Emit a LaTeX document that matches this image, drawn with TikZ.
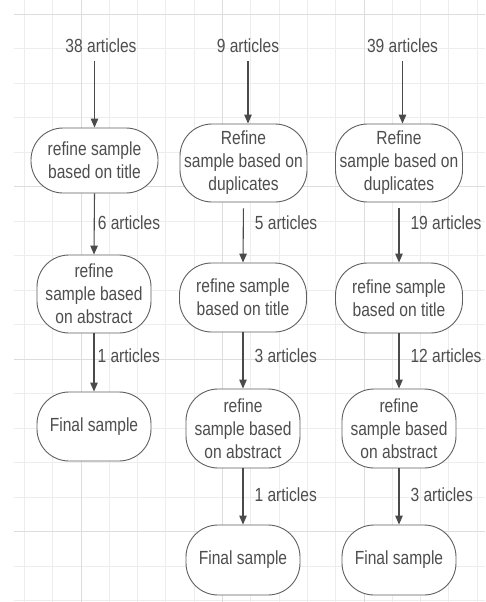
\documentclass[tikz,border=0pt]{standalone}
\usepackage{fontspec}
\setmainfont[FakeStretch=0.82]{Liberation Sans}
\usetikzlibrary{arrows.meta}
\definecolor{gridminor}{HTML}{EDEDED}
\definecolor{gridmajor}{HTML}{DDDDDD}
\definecolor{boxc}{HTML}{606060}
\definecolor{txt}{HTML}{4E4E4E}
\definecolor{arrc}{HTML}{4A4A4A}
\begin{document}
\begin{tikzpicture}[x=1pt,y=-1pt,
  box/.style={draw=boxc, line width=0.9pt, rounded corners=32pt, text=txt, align=center,
    font=\fontsize{19}{23}\selectfont, inner sep=0pt, fill=white},
  wide/.style={minimum width=127pt},
  narrow/.style={minimum width=114pt},
  toplbl/.style={text=txt, font=\fontsize{19}{23}\selectfont, inner sep=2pt},
  elbl/.style={text=txt, font=\fontsize{19}{23}\selectfont, right, inner sep=0pt},
  arr/.style={draw=arrc, line width=1.1pt, -{Triangle[length=9pt,width=7.5pt]}}]
\useasboundingbox (0,0) rectangle (485,602);
\fill[white] (0,0) rectangle (485,602);
% grid
\foreach \i in {0,...,16} \draw[gridminor, line width=0.9pt] ({24.4+28.3*\i},0) -- ({24.4+28.3*\i},602);
\foreach \j in {0,...,17} \draw[gridminor, line width=0.9pt] (14,{14+34.5*\j}) -- (485,{14+34.5*\j});
\foreach \x in {81,222.5,364} \draw[gridmajor, line width=0.9pt] (\x,0) -- (\x,602);
\foreach \y in {14,186.5,359,531.5} \draw[gridmajor, line width=0.9pt] (14,\y) -- (485,\y);

% column 1
\node[toplbl] (l1) at (101,46) {38 articles};
\node[box, wide, minimum height=65pt] (t1) at (94.5,160.5) {refine sample\\based on title};
\node[box, narrow, minimum height=78pt] (a1) at (94,294) {refine\\sample based\\on abstract};
\node[box, narrow, minimum height=69pt] (f1) at (94,426.5) {Final sample};
\draw[arr, shorten <=6pt] (l1.south -| t1.north) -- (t1.north);
\draw[arr] (t1.south) -- (a1.north) node[elbl, pos=0.48, xshift=3pt] {6 articles};
\draw[arr] (a1.south) -- (f1.north) node[elbl, pos=0.39, xshift=3pt] {1 articles};

% column 2
\node[toplbl] (l2) at (248,46) {9 articles};
\node[box, wide, minimum height=78pt] (d2) at (243.5,163) {Refine\\sample based on\\duplicates};
\node[box, wide, minimum height=69pt] (t2) at (243,297.5) {refine sample\\based on title};
\node[box, narrow, minimum height=79pt] (a2) at (243,428.5) {refine\\sample based\\on abstract};
\node[box, narrow, minimum height=70pt] (f2) at (243,560) {Final sample};
\draw[arr, shorten <=6pt] (l2.south) -- (l2.south |- d2.north);
\draw[arr, shorten <=6pt] (d2.south) -- (t2.north) node[elbl, pos=0.34, xshift=11pt] {5 articles};
\draw[arr] (t2.south) -- (a2.north) node[elbl, pos=0.42, xshift=11pt] {3 articles};
\draw[arr] (a2.south) -- (f2.north) node[elbl, pos=0.46, xshift=11pt] {1 articles};

% column 3
\node[toplbl] (l3) at (402.5,46) {39 articles};
\node[box, wide, minimum height=78pt] (d3) at (399,163) {Refine\\sample based on\\duplicates};
\node[box, wide, minimum height=70pt] (t3) at (399,298) {refine sample\\based on title};
\node[box, narrow, minimum height=79pt] (a3) at (399,428.5) {refine\\sample based\\on abstract};
\node[box, narrow, minimum height=70pt] (f3) at (399,560) {Final sample};
\draw[arr, shorten <=6pt] (l3.south) -- (l3.south |- d3.north);
\draw[arr, shorten <=6pt] (d3.south) -- (t3.north) node[elbl, pos=0.34, xshift=11pt] {19 articles};
\draw[arr] (t3.south) -- (a3.north) node[elbl, pos=0.41, xshift=11pt] {12 articles};
\draw[arr] (a3.south) -- (f3.north) node[elbl, pos=0.46, xshift=11pt] {3 articles};
\end{tikzpicture}
\end{document}
